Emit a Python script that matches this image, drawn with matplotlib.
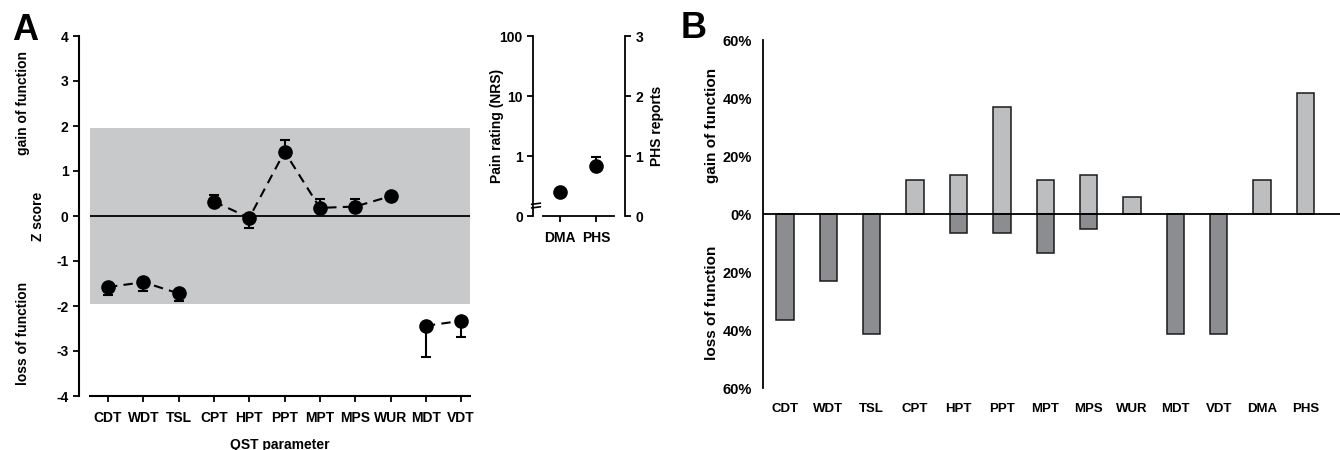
import matplotlib
matplotlib.use("Agg")
import matplotlib.pyplot as plt
import numpy as np

plt.rcParams['font.family'] = ['Liberation Sans', 'DejaVu Sans']
plt.rcParams['font.weight'] = 'bold'
plt.rcParams['axes.unicode_minus'] = False

W, H = 1340, 450

# Panel A - QST z scores
qst = ['CDT', 'WDT', 'TSL', 'CPT', 'HPT', 'PPT', 'MPT', 'MPS', 'WUR', 'MDT', 'VDT']
z_mean = [-1.58, -1.47, -1.72, 0.32, -0.04, 1.43, 0.18, 0.21, 0.44, -2.44, -2.33]
z_err_low = [0.18, 0.20, 0.16, 0.0, 0.22, 0.0, 0.0, 0.0, 0.0, 0.69, 0.35]
z_err_high = [0.0, 0.0, 0.0, 0.15, 0.0, 0.26, 0.20, 0.17, 0.05, 0.0, 0.0]
groups = [[0, 1, 2], [3, 4, 5, 6, 7, 8], [9, 10]]

# inset: pain rating / PHS reports
dma_rating = 0.25
phs_reports = 0.83
phs_err = 0.15

# Panel B - frequency of gain / loss of function (%)
params_b = ['CDT', 'WDT', 'TSL', 'CPT', 'HPT', 'PPT', 'MPT', 'MPS', 'WUR', 'MDT', 'VDT', 'DMA', 'PHS']
gain = [0, 0, 0, 11.6, 13.4, 36.8, 11.6, 13.4, 5.8, 0, 0, 11.6, 41.7]
loss = [36.5, 23.1, 41.4, 0, 6.5, 6.5, 13.4, 5.3, 0, 41.4, 41.4, 0, 0]


def box(x0, y0, x1, y1):
    # pixel box (top-left origin) -> figure fraction rect
    return [x0 / W, 1 - y1 / H, (x1 - x0) / W, (y1 - y0) / H]


fig = plt.figure(figsize=(W / 100, H / 100), dpi=100)
fs = 10

# ---------- A main ----------
ax = fig.add_axes(box(90, 36, 470, 396))
x = np.arange(len(qst))
ax.axhspan(-1.96, 1.96, color='#c8c9cb', lw=0, zorder=0)
ax.axhline(0, color='black', lw=1.3, zorder=1)
for g in groups:
    ax.plot(x[g], np.array(z_mean)[g], ls=(0, (4.5, 3)), color='black', lw=1.5, zorder=2)
ax.errorbar(x, z_mean, yerr=[z_err_low, z_err_high], fmt='o', color='black',
            ms=9.5, capsize=3.5, elinewidth=1.5, capthick=1.5, zorder=3)
ax.set_xlim(-0.51, 10.25)
ax.set_ylim(-4, 4)
ax.set_yticks(range(-4, 5))
ax.set_xticks(x)
ax.set_xticklabels(qst)
for s in ['top', 'right']:
    ax.spines[s].set_visible(False)
ax.spines['left'].set_position(('outward', 8))
ax.spines['left'].set_linewidth(1.5)
ax.spines['bottom'].set_linewidth(1.5)
ax.tick_params(axis='both', direction='out', length=4, width=1.3, labelsize=fs)
ax.tick_params(axis='x', pad=7)
ax.set_xlabel('QST parameter', fontsize=fs, fontweight='bold', labelpad=9)
fig.text(38 / W, 1 - 216 / H, 'Z score', rotation=90, ha='center', va='center',
         fontsize=fs, fontweight='bold')
fig.text(23 / W, 1 - 103 / H, 'gain of function', rotation=90, ha='center', va='center',
         fontsize=fs, fontweight='bold')
fig.text(23 / W, 1 - 333 / H, 'loss of function', rotation=90, ha='center', va='center',
         fontsize=fs, fontweight='bold')
fig.text(12 / W, 1 - 40 / H, 'A', fontsize=26, fontweight='bold', ha='left', va='baseline')

# ---------- A inset ----------
axi = fig.add_axes(box(543, 36, 614, 216))
axi.set_yscale('log')
axi.set_ylim(0.1, 100)
axi.set_xlim(-0.47, 1.5)
axi.plot([0], [dma_rating], 'o', color='black', ms=9.5, zorder=3)
axi.set_yticks([0.1, 1, 10, 100])
axi.set_yticklabels(['0', '1', '10', '100'])
axi.yaxis.set_minor_locator(matplotlib.ticker.NullLocator())
axi.set_xticks([0, 1])
axi.set_xticklabels(['DMA', 'PHS'])
axi.spines['top'].set_visible(False)
axi.spines['right'].set_visible(False)
axi.spines['left'].set_position(('outward', 7))
for s in ['left', 'bottom']:
    axi.spines[s].set_linewidth(1.3)
axi.tick_params(axis='both', direction='out', length=4, width=1.3, labelsize=fs)
axi.tick_params(axis='x', pad=7)
fig.text(497 / W, 1 - 126 / H, 'Pain rating (NRS)', rotation=90, ha='center', va='center',
         fontsize=fs, fontweight='bold')
# axis break on the left spine
sx = -7 / 71
axi.plot([sx, sx], [0.052, 0.064], transform=axi.transAxes, color='white', lw=3,
         clip_on=False, zorder=5)
for yb in [0.048, 0.068]:
    axi.plot([sx - 0.06, sx + 0.06], [yb - 0.003, yb + 0.003], transform=axi.transAxes,
             color='black', lw=1.2, clip_on=False, zorder=6)

ax2 = axi.twinx()
ax2.set_ylim(0, 3)
ax2.errorbar([1], [phs_reports], yerr=[[0], [phs_err]], fmt='o', color='black',
             ms=9.5, capsize=3.5, elinewidth=1.5, capthick=1.5, zorder=3)
ax2.set_yticks([0, 1, 2, 3])
for s in ['top', 'left', 'bottom']:
    ax2.spines[s].set_visible(False)
ax2.spines['right'].set_position(('outward', 8))
ax2.spines['right'].set_linewidth(1.3)
ax2.tick_params(axis='y', direction='out', length=4, width=1.3, labelsize=fs)
fig.text(657 / W, 1 - 126 / H, 'PHS reports', rotation=90, ha='center', va='center',
         fontsize=fs, fontweight='bold')

# ---------- B ----------
axb = fig.add_axes(box(763, 40, 1340, 388))
xb = np.arange(len(params_b))
axb.bar(xb, gain, width=0.4, color='#bdbec0', edgecolor='#1a1a1a', lw=1.1, zorder=2)
axb.bar(xb, [-v for v in loss], width=0.4, color='#8c8d90', edgecolor='#1a1a1a', lw=1.1, zorder=2)
axb.axhline(0, color='black', lw=1.3, zorder=3)
axb.set_xlim(-0.51, 12.8)
axb.set_ylim(-60, 60)
yt = [-60, -40, -20, 0, 20, 40, 60]
axb.set_yticks(yt)
axb.set_yticklabels([f'{abs(v)}%' for v in yt], fontsize=10.5)
axb.set_xticks(xb)
axb.set_xticklabels(params_b, fontsize=9.5)
for s in ['top', 'right', 'bottom']:
    axb.spines[s].set_visible(False)
axb.spines['left'].set_linewidth(1.3)
axb.tick_params(axis='both', length=0, pad=8)
axb.tick_params(axis='x', pad=11)
fig.text(712 / W, 1 - 125 / H, 'gain of function', rotation=90, ha='center', va='center',
         fontsize=11, fontweight='bold')
fig.text(712 / W, 1 - 303 / H, 'loss of function', rotation=90, ha='center', va='center',
         fontsize=11, fontweight='bold')
fig.text(681 / W, 1 - 38 / H, 'B', fontsize=26, fontweight='bold', ha='left', va='baseline')

fig.savefig('out.png', dpi=100)
